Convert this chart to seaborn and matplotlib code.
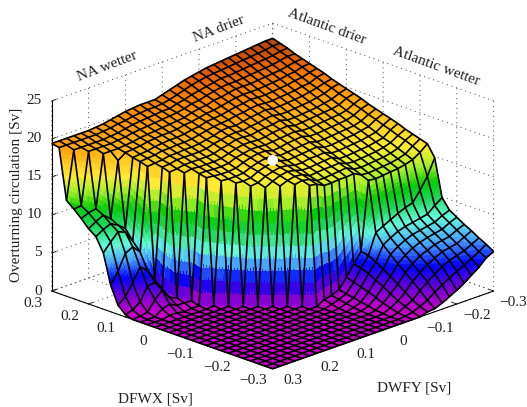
import numpy as np
import matplotlib
matplotlib.use('Agg')
import matplotlib.pyplot as plt
from matplotlib.colors import ListedColormap, Normalize
from mpl_toolkits.mplot3d import proj3d
import seaborn as sns

# grid values, 0.02 Sv steps, 0.3 down to -0.3
dfwx = [0.3 - 0.02 * n for n in range(31)]
dwfy = [0.3 - 0.02 * n for n in range(31)]
xticks = [-0.3, -0.2, -0.1, 0, 0.1, 0.2, 0.3]
xtick_labels = ['\u22120.3', '\u22120.2', '\u22120.1', '0', '0.1', '0.2', '0.3']
zticks = [0, 5, 10, 15, 20, 25]

# overturning [Sv], one list per DWFY value
y00 = [19.4,19.2,12.6,11.8,10.9,9.9,9.2,7.4,3.5,1.2,0.3] + [0] * 20
y01 = [19.4,19.2,18.9,11.9,11.3,10.5,9.8,8.5,5.0,2.0,0.6,0.1] + [0] * 19
y02 = [19.4,19.2,18.9,18.7,11.5,11.0,10.2,9.5,7.0,3.5,1.3,0.3] + [0] * 19
y03 = [19.4,19.2,18.9,18.7,18.4,10.2,9.7,9.1,7.5,5.2,3.0,1.6,0.7,0.2] + [0] * 17
y04 = [19.4,19.2,18.9,18.7,18.4,17.5,8.9,7.6,6.5,4.4,3.2,2.5,1.0,0.2] + [0] * 17
y05 = [19.4,19.2,18.9,18.7,18.4,18.2,17.9,17.7,17.4,2.8,2.0,1.2,0.5] + [0] * 18
y06 = [19.5,19.3,19.0,18.8,18.5,18.3,18.0,17.8,17.5,17.3,17.0,0.8,0.5,0.1] + [0] * 17
y07 = [19.6,19.4,19.1,18.9,18.6,18.4,18.1,17.9,17.6,17.4,17.1,16.9,0.4,0.1] + [0] * 17
y08 = [19.8,19.6,19.3,19.1,18.8,18.6,18.3,18.1,17.8,17.6,17.3,17.1,16.8,16.6,0.1] + [0] * 16
y09 = [20.0,19.7,19.5,19.2,18.9,18.7,18.4,18.1,17.8,17.6,17.3,17.0,16.8,16.5,16.2] + [0] * 16
y10 = [20.2,19.9,19.6,19.3,19.0,18.8,18.5,18.2,17.9,17.6,17.3,17.0,16.7,16.4,16.1,15.9] + [0] * 15
y11 = [20.3,20.0,19.7,19.4,19.1,18.8,18.5,18.2,17.9,17.6,17.3,17.0,16.7,16.4,16.1,15.8,15.5] + [0] * 14
y12 = [20.4,20.1,19.8,19.5,19.2,18.9,18.6,18.3,18.0,17.7,17.4,17.1,16.8,16.5,16.2,15.9,15.6,15.3] + [0] * 13
y13 = [20.4,20.1,19.9,19.6,19.3,19.1,18.8,18.5,18.2,18.0,17.7,17.4,17.2,16.9,16.6,16.4,16.1,15.8,15.5] + [0] * 12
y14 = [20.4,20.2,19.9,19.7,19.4,19.2,18.9,18.7,18.4,18.2,17.9,17.7,17.4,17.2,16.9,16.7,16.4,16.2,15.9,15.7] + [0] * 11
y15 = [20.7,20.4,20.2,19.9,19.7,19.4,19.2,18.9,18.7,18.4,18.2,17.9,17.6,17.4,17.1,16.9,16.6,16.4,16.1,15.9,15.6] + [0] * 10
y16 = [21.0,20.7,20.4,20.2,19.9,19.6,19.3,19.0,18.8,18.5,18.2,17.9,17.6,17.4,17.1,16.8,16.5,16.2,16.0,15.7,15.4,0.6,0.3,0.1] + [0] * 7
y17 = [21.3,21.0,20.7,20.3,20.0,19.7,19.4,19.1,18.7,18.4,18.1,17.8,17.5,17.1,16.8,16.5,16.2,15.9,15.5,15.2,14.9,0.8,0.6,0.4,0.2,0.1] + [0] * 5
y18 = [21.6,21.3,20.9,20.6,20.3,19.9,19.6,19.3,18.9,18.6,18.3,17.9,17.6,17.2,16.9,16.6,16.2,15.9,15.6,15.2,14.9,1.2,1.0,0.8,0.6,0.4,0.2,0.1] + [0] * 3
y19 = [21.8,21.5,21.1,20.8,20.4,20.1,19.8,19.4,19.1,18.7,18.4,18.1,17.7,17.4,17.0,16.7,16.4,16.0,15.7,15.3,15.0,2.5,2.2,1.9,1.6,1.2,0.8,0.5,0.2,0.1,0]
y20 = [22.0,21.7,21.3,21.0,20.6,20.3,19.9,19.6,19.2,18.9,18.5,18.2,17.8,17.5,17.1,16.8,16.4,16.1,15.7,15.4,15.0,3.9,3.7,3.3,2.8,2.3,1.7,1.1,0.7,0.3,0]
y21 = [22.2,21.8,21.5,21.1,20.8,20.4,20.1,19.7,19.4,19.0,18.7,18.3,17.9,17.6,17.2,16.9,16.5,16.2,15.8,15.5,15.1,5.2,5.0,4.5,3.9,3.3,2.6,1.9,1.2,0.7,0.3]
y22 = [22.3,21.9,21.5,21.1,20.8,20.4,20.0,19.6,19.2,18.8,18.4,18.0,17.7,17.3,16.9,16.5,16.1,15.7,15.4,15.0,14.6,14.2,7.7,6.4,5.5,4.6,3.8,3.0,2.1,1.2,0.4]
y23 = [22.4,22.0,21.6,21.2,20.8,20.4,20.0,19.6,19.2,18.8,18.4,18.1,17.7,17.3,16.9,16.5,16.1,15.7,15.3,14.9,14.5,14.1,8.2,7.0,6.2,5.4,4.6,3.8,2.9,1.9,0.8]
y24 = [22.5,22.1,21.7,21.3,20.9,20.5,20.1,19.7,19.3,18.9,18.5,18.2,17.8,17.4,17.0,16.6,16.2,15.8,15.4,15.0,14.6,14.2,8.7,7.5,6.7,6.0,5.3,4.5,3.6,2.5,1.3]
y25 = [22.6,22.2,21.8,21.4,21.0,20.6,20.2,19.8,19.4,19.0,18.6,18.3,17.9,17.5,17.1,16.7,16.3,15.9,15.5,15.1,14.7,14.3,9.2,7.8,7.1,6.4,5.7,5.0,4.2,3.1,1.8]
y26 = [22.7,22.3,21.9,21.5,21.1,20.7,20.3,19.9,19.5,19.1,18.7,18.4,18.0,17.6,17.2,16.8,16.4,16.0,15.6,15.2,14.8,14.4,9.6,8.0,7.3,6.7,6.1,5.5,4.7,3.6,2.4]
y27 = [22.8,22.4,22.0,21.6,21.2,20.9,20.5,20.1,19.7,19.3,18.9,18.5,18.1,17.7,17.3,17.0,16.6,16.2,15.8,15.4,15.0,14.6,9.9,8.2,7.5,6.9,6.3,5.7,5.0,4.1,3.1]
y28 = [22.9,22.5,22.1,21.8,21.4,21.0,20.6,20.2,19.9,19.5,19.1,18.7,18.3,18.0,17.6,17.2,16.8,16.4,16.1,15.7,15.3,14.9,11.2,8.4,7.7,7.1,6.5,5.9,5.3,4.6,3.8]
y29 = [23.0,22.7,22.3,22.0,21.6,21.3,20.9,20.6,20.2,19.9,19.5,19.2,18.8,18.5,18.1,17.8,17.4,17.1,16.7,16.4,16.0,15.5,12.7,9.2,8.2,7.6,7.0,6.4,5.8,5.2,4.7]
y30 = [23.0,22.7,22.4,22.0,21.7,21.4,21.1,20.8,20.4,20.1,19.8,19.5,19.2,18.8,18.5,18.2,17.9,17.6,17.2,16.9,16.6,16.3,14.8,9.9,8.6,8.0,7.4,6.9,6.3,5.8,5.2]

Z = np.array([y00, y01, y02, y03, y04, y05, y06, y07, y08, y09, y10,
              y11, y12, y13, y14, y15, y16, y17, y18, y19, y20,
              y21, y22, y23, y24, y25, y26, y27, y28, y29, y30])
X, Y = np.meshgrid(dfwx, dwfy)

# colour steps every 2 Sv, from 0 to 24
colour_steps = ['#c800c8', '#6e00d7', '#0000ff', '#46a0ff', '#64fadc', '#1ed75a', '#00cd00',
                '#a0f028', '#ffeb32', '#ffc31e', '#ff9105', '#e15f00', '#96320a']
cmap = ListedColormap(sns.blend_palette(colour_steps, n_colors=64))
norm = Normalize(0, 24)

sns.set_theme(style='white', font='Liberation Serif')
plt.rcParams['font.family'] = ['Liberation Serif', 'DejaVu Serif']

fig = plt.figure(figsize=(5.27, 4.07), dpi=100)
ax = fig.add_axes([0.007, 0.005, 1.0, 1.0], projection='3d', proj_type='ortho', computed_zorder=False)
ax.view_init(elev=20.6, azim=135)
ax.set_box_aspect((1, 1, 0.65), zoom=1.16)

# split every cell in small pieces so the steep faces get smooth colour bands
k = 10
cells = Z.shape[0] - 1
t = np.linspace(0, cells, cells * k + 1)
cell = np.minimum(t.astype(int), cells - 1)
frac = t - cell
rows, cols = np.meshgrid(cell, cell, indexing='ij')
v, u = np.meshgrid(frac, frac, indexing='ij')
z00, z10 = Z[rows, cols], Z[rows, cols + 1]
z01, z11 = Z[rows + 1, cols], Z[rows + 1, cols + 1]
fine_z = np.where(u >= v, z00 + u * (z10 - z00) + v * (z11 - z10),
                  z00 + v * (z01 - z00) + u * (z11 - z01))
fine_x, fine_y = np.meshgrid(0.3 - 0.02 * t, 0.3 - 0.02 * t)
mid = (fine_z[:-1, :-1] + fine_z[1:, :-1] + fine_z[:-1, 1:] + fine_z[1:, 1:]) / 4

surf = ax.plot_surface(fine_x, fine_y, fine_z, facecolors=cmap(norm(mid)), rstride=1, cstride=1,
                       shade=False, linewidth=0, antialiased=False, zorder=1)
wire = ax.plot_wireframe(X, Y, Z, color='black', linewidth=1.2, rstride=1, cstride=1, zorder=2)
surf.set_clip_on(False)
wire.set_clip_on(False)
ax.scatter([0], [0], [17.2], s=60, c='white', edgecolors='none', depthshade=False, zorder=3)

ax.set_xlim(-0.3, 0.3)
ax.set_ylim(-0.3, 0.3)
ax.set_zlim(0, 25)
ax.set_xticks(xticks)
ax.set_xticklabels([])
ax.set_yticks(xticks)
ax.set_yticklabels([])
ax.set_zticks(zticks)
ax.set_zticklabels([])
ax.zaxis.set_ticks_position('upper')

for axis in [ax.xaxis, ax.yaxis, ax.zaxis]:
    axis.set_pane_color((1, 1, 1, 0))
    axis.line.set_color('black')
    axis.line.set_linewidth(0.8)
    axis._axinfo['grid'].update(color='#444444', linestyle=(0, (1, 4)), linewidth=0.7)
    axis._axinfo['tick'].update(inward_factor=0.0, outward_factor=0.25)
    axis._axinfo['tick']['linewidth'] = {True: 0.7, False: 0.5}
ax.grid(True)

# tick labels, a little off the axis lines
proj = ax.get_proj()
for tick, label in zip(xticks, xtick_labels):
    px, py, _ = proj3d.proj_transform(tick, 0.352, -0.7, proj)
    ax.text2D(px, py, label, transform=ax.transData, fontsize=11, ha='center', va='center', color='#222222')
    px, py, _ = proj3d.proj_transform(-0.354, tick, -0.6, proj)
    ax.text2D(px, py, label, transform=ax.transData, fontsize=11, ha='center', va='center', color='#222222')
for tick in zticks:
    px, py, _ = proj3d.proj_transform(0.3, 0.3, tick, proj)
    ax.annotate(str(tick), xy=(px, py), xytext=(-7, 0), textcoords='offset points', fontsize=11,
                ha='right', va='center', color='#222222', annotation_clip=False)

fig.text(155 / 527, 1 - 399 / 407, 'DFWX [Sv]', fontsize=11, ha='center', va='center', color='#222222')
fig.text(414 / 527, 1 - 388 / 407, 'DWFY [Sv]', fontsize=11, ha='center', va='center', color='#222222')
fig.text(17 / 527, 1 - 195 / 407, 'Overturning circulation [Sv]', fontsize=11, rotation=90,
         ha='center', va='center', color='#222222')
fig.text(107 / 527, 1 - 66 / 407, 'NA wetter', fontsize=11, rotation=21, ha='center', va='center', color='#222222')
fig.text(219 / 527, 1 - 29 / 407, 'NA drier', fontsize=11, rotation=21, ha='center', va='center', color='#222222')
fig.text(327 / 527, 1 - 27 / 407, 'Atlantic drier', fontsize=11, rotation=-20, ha='center', va='center', color='#222222')
fig.text(436 / 527, 1 - 66 / 407, 'Atlantic wetter', fontsize=11, rotation=-20, ha='center', va='center', color='#222222')

fig.savefig('out.png', dpi=100)
